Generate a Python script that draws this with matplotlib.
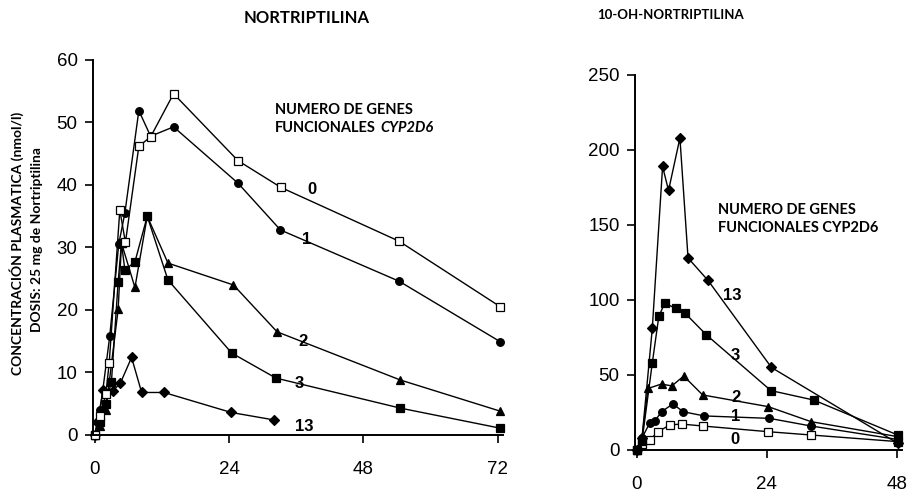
import matplotlib.pyplot as plt

# NORTRIPTILINA (nmol/l) vs horas
t0 = [0, 1, 2, 2.6, 4.5, 5.5, 7.9, 10, 14.1, 25.6, 33.3, 54.4, 72.5]
v0 = [0, 3, 6.5, 11.5, 36, 30.8, 46.2, 47.7, 54.6, 43.9, 39.6, 31, 20.5]
t1 = [0, 1, 2.7, 4.3, 5.4, 7.9, 10, 14.1, 25.6, 33.2, 54.4, 72.5]
v1 = [0, 4, 15.8, 30.5, 35.5, 51.9, 47.8, 49.3, 40.3, 32.8, 24.6, 14.9]
t2 = [0, 1, 2, 4.2, 4.8, 7.2, 9.4, 13.1, 24.8, 32.6, 54.6, 72.5]
v2 = [0, 1.5, 4, 20.1, 30.7, 23.6, 35, 27.5, 24, 16.5, 8.8, 3.8]
t3 = [0, 1, 2, 3, 4.2, 4.8, 5.4, 7.2, 9.4, 13.1, 24.5, 32.4, 54.6, 72.4]
v3 = [0, 2, 5, 8.5, 24.5, 30.7, 26.4, 27.7, 35, 24.8, 13.1, 9.1, 4.3, 1.1]
t13 = [0, 0.5, 1.5, 3.3, 4.6, 6.6, 8.4, 12.4, 24.4, 32.1]
v13 = [0, 2, 7.2, 7.1, 8.3, 12.4, 6.8, 6.8, 3.6, 2.4]

# 10-OH-NORTRIPTILINA
r0_t = [0, 1, 2.4, 4, 6.1, 8.3, 12.2, 24.3, 32.2, 48.2]
r0_v = [0, 4, 6.7, 12.2, 16.7, 17.3, 16, 12.2, 10, 5.6]
r1_t = [0, 1, 2.4, 3.4, 4.6, 6.7, 8.6, 12.5, 24.5, 32.2, 48.2]
r1_v = [0, 8, 17.8, 19.5, 25.5, 30.7, 25.5, 22.7, 21.1, 16, 7]
r2_t = [0, 1, 2.1, 4.6, 6.5, 8.7, 12.2, 24.3, 32.2, 48.2]
r2_v = [0, 8, 41, 44, 42.7, 49.3, 36.7, 28.9, 18.9, 8.9]
r3_t = [0, 1, 2.9, 4.1, 5.2, 7.2, 9.0, 12.9, 24.8, 32.7, 48.2]
r3_v = [0, 6, 58, 89, 98, 94.4, 91, 76.7, 39.6, 33.3, 10]
r13_t = [0, 1, 2.9, 4.8, 5.9, 8.0, 9.5, 13.2, 24.9, 48.2]
r13_v = [0, 8, 81, 189, 173, 208, 128, 113, 55, 4.5]

left_ticks = [0, 24, 48, 72]
right_ticks = [0, 24, 48]

fig = plt.figure(figsize=(9.14, 4.99), dpi=100)

ax1 = fig.add_axes([0.1017, 0.1283, 0.4489, 0.7515])
ax2 = fig.add_axes([0.6947, 0.0982, 0.2922, 0.7515])

lw = 1.0
kw = dict(color='black', lw=lw, clip_on=False)


def draw(ax, t, v, marker, ms, filled=True):
    ax.plot(t, v, marker=marker, ms=ms, mfc='black' if filled else 'white',
            mec='black', mew=0.9, **kw)


draw(ax1, t13, v13, 'D', 5)
draw(ax1, t3, v3, 's', 6)
draw(ax1, t2, v2, '^', 6)
draw(ax1, t1, v1, 'o', 5.5)
draw(ax1, t0, v0, 's', 6, filled=False)

draw(ax2, r0_t, r0_v, 's', 6, filled=False)
draw(ax2, r1_t, r1_v, 'o', 5.5)
draw(ax2, r2_t, r2_v, '^', 6)
draw(ax2, r3_t, r3_v, 's', 6)
draw(ax2, r13_t, r13_v, 'D', 5)

ax1.set_xlim(-0.3, 73)
ax1.set_ylim(0, 60)
ax1.set_yticks(range(0, 61, 10))
ax1.set_xticks(left_ticks)
ax2.set_xlim(-0.3, 49)
ax2.set_ylim(0, 250)
ax2.set_yticks(range(0, 251, 50))
ax2.set_xticks(right_ticks)

for ax in (ax1, ax2):
    for s in ('top', 'right'):
        ax.spines[s].set_visible(False)
    for s in ('left', 'bottom'):
        ax.spines[s].set_linewidth(1.4)
    ax.tick_params(axis='y', direction='out', length=6, width=1.2, pad=5,
                   labelsize=13.5)
    ax.tick_params(axis='x', direction='out', length=6, width=1.2, pad=13,
                   labelsize=13.5)
    for lab in ax.get_xticklabels() + ax.get_yticklabels():
        lab.set_family('Liberation Sans')

# numbers next to the curves
lab_font = dict(fontsize=12, fontweight='bold', ha='center', va='center',
                family='Liberation Sans')
ax1.text(38.8, 39.2, '0', **lab_font)
ax1.text(37.9, 31.2, '1', **lab_font)
ax1.text(37.2, 14.9, '2', **lab_font)
ax1.text(36.5, 8.3, '3', **lab_font)
ax1.text(37.5, 1.3, '13', **lab_font)

ax2.text(17.6, 102.7, '13', **lab_font)
ax2.text(18.2, 63.3, '3', **lab_font)
ax2.text(18.3, 34.7, '2', **lab_font)
ax2.text(18.2, 22, '1', **lab_font)
ax2.text(18.2, 7.3, '0', **lab_font)

# titles
fig.text(307 / 914, 1 - 18 / 499, 'NORTRIPTILINA', ha='center', va='center',
         fontsize=12, fontweight='bold', family='Lato')
fig.text(671 / 914, 1 - 15 / 499, '10-OH-NORTRIPTILINA', ha='center',
         va='center', fontsize=9.5, fontweight='bold', family='Lato')

# gene legend text
txt = dict(fontsize=10.5, fontweight='bold', family='Lato', va='center',
           ha='left')
fig.text(275 / 914, 1 - 110 / 499, 'NUMERO DE GENES', **txt)
f1 = fig.text(275 / 914, 1 - 128 / 499, 'FUNCIONALES', **txt)
ax1.annotate('CYP2D6', xy=(1, 0.5), xycoords=f1, xytext=(3, 0),
             textcoords='offset points', va='center', ha='left',
             fontsize=10.5, fontweight='bold', style='italic', family='Lato')
fig.text(718 / 914, 1 - 210 / 499, 'NUMERO DE GENES', **txt)
fig.text(718 / 914, 1 - 228 / 499, 'FUNCIONALES CYP2D6', **txt)

# y label
fig.text(17 / 914, 1 - 243 / 499, 'CONCENTRACIÓN PLASMATICA (nmol/l)',
         rotation=90, ha='center', va='center', fontsize=10,
         fontweight='bold', family='Lato')
fig.text(37 / 914, 1 - 240 / 499, 'DOSIS: 25 mg de Nortriptilina',
         rotation=90, ha='center', va='center', fontsize=10,
         fontweight='bold', family='Lato')

plt.savefig('out.png', dpi=100)
